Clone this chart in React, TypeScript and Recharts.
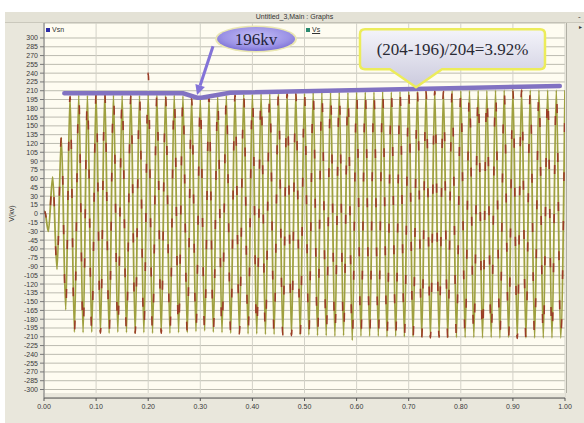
import React from 'react';
import {
  LineChart,
  Line,
  XAxis,
  YAxis,
  CartesianGrid,
  ReferenceArea,
  ReferenceLine,
  ReferenceDot,
} from 'recharts';

// ---- data ----
// sample times: start of the run, then one extremum every half cycle (60 Hz)
const START_TIMES = [0, 0.0015];
const HALF_CYCLE = 1 / 120;
const EXTREMA = 120;

// Vsn extrema (kV): start-up transient, then +/- peaks
const VSN = [
  0, 4,
  -30, 63, -95, 130, -164,
  201, -202, 203, -203, 202, -202, 204, -203, 207, -204,
  203, -202, 202, -203, 203, -204, 202, -203, 204, -204,
  203, -203, 202, -204, 203, -203, 201, -203, 198, -201,
  196, -200, 198, -202, 200, -203, 202, -204, 203, -204,
  204, -205, 204, -205, 205, -206, 205, -206, 205, -206,
  206, -207, 206, -207, 206, -207, 207, -208, 207, -208,
  207, -209, 208, -208, 207, -216, 208, -209, 208, -209,
  208, -209, 209, -210, 208, -209, 209, -210, 209, -210,
  209, -210, 209, -211, 210, -210, 209, -211, 210, -211,
  210, -211, 210, -211, 210, -212, 210, -211, 211, -212,
  211, -211, 211, -212, 211, -212, 211, -212, 211, -212,
  211, -212, 211, -212, 211,
];

// Vs extrema (kV)
const VS = [
  0, 4,
  -30, 63, -96, 131, -165,
  200, -203, 203, -204, 201, -203, 204, -204, 206, -205,
  203, -203, 202, -204, 202, -204, 201, -204, 240, -205,
  203, -204, 202, -205, 203, -204, 200, -204, 197, -202,
  196, -201, 198, -203, 200, -204, 202, -205, 203, -205,
  204, -206, 204, -206, 205, -207, 205, -207, 205, -207,
  206, -208, 206, -208, 206, -208, 207, -209, 207, -209,
  207, -210, 208, -209, 207, -217, 208, -210, 208, -210,
  208, -210, 209, -211, 208, -210, 209, -211, 209, -211,
  209, -211, 209, -212, 210, -211, 209, -212, 210, -212,
  210, -212, 210, -212, 210, -213, 210, -212, 211, -213,
  211, -212, 211, -213, 211, -213, 211, -213, 211, -213,
  211, -213, 211, -213, 211,
];

// hand-drawn envelope annotation
const ENV_T = [0.039, 0.267, 0.294, 0.302, 0.357, 0.99];
const ENV_V = [205.6, 205.6, 198, 198, 206.6, 218];

const X_TICKS = [0, 0.1, 0.2, 0.3, 0.4, 0.5, 0.6, 0.7, 0.8, 0.9, 1.0];
const Y_TICKS = [
  300, 285, 270, 255, 240, 225, 210, 195, 180, 165, 150, 135, 120, 105, 90, 75, 60, 45, 30, 15, 0,
  -15, -30, -45, -60, -75, -90, -105, -120, -135, -150, -165, -180, -195, -210, -225, -240, -255,
  -270, -285, -300,
];

const TITLE = 'Untitled_3,Main : Graphs';
const CALLOUT_1 = '196kv';
const CALLOUT_2 = '(204-196)/204=3.92%';

const TIMES = [
  ...START_TIMES,
  ...Array.from({ length: EXTREMA }, (_, i) => (i + 1) * HALF_CYCLE),
];
const rows = TIMES.map((t, i) => ({ t, vsn: VSN[i], vs: VS[i] }));
const envRows = ENV_T.map((t, i) => ({ t, env: ENV_V[i] }));

const FRAME = '#E9E7DC';
const CREAM = '#FEFCF1';
const tickFont = { fontSize: 7, fill: '#3a3a3a', fontFamily: 'Liberation Sans, Arial, sans-serif' };

const ArrowShape = (props: any) => {
  const { x1, y1, x2, y2 } = props;
  if ([x1, y1, x2, y2].some((v) => v == null || isNaN(v))) return null;
  const ang = Math.atan2(y2 - y1, x2 - x1);
  const L = 10;
  const W = 5;
  const bx = x2 - L * Math.cos(ang);
  const by = y2 - L * Math.sin(ang);
  const px = -Math.sin(ang) * W;
  const py = Math.cos(ang) * W;
  return (
    <g>
      <line x1={x1} y1={y1} x2={bx} y2={by} stroke="#8373d8" strokeWidth={3} />
      <polygon points={`${x2},${y2} ${bx + px},${by + py} ${bx - px},${by - py}`} fill="#8373d8" />
    </g>
  );
};

const EllipseCallout = (props: any) => {
  const { cx, cy } = props;
  if (cx == null || cy == null) return null;
  return (
    <g>
      <defs>
        <radialGradient id="ellG" cx="50%" cy="40%" r="60%">
          <stop offset="0%" stopColor="#c4bff6" />
          <stop offset="70%" stopColor="#9c93e6" />
          <stop offset="100%" stopColor="#7d72d6" />
        </radialGradient>
      </defs>
      <ellipse cx={cx} cy={cy} rx={41} ry={13.5} fill="#e9e6b0" />
      <ellipse cx={cx} cy={cy} rx={39} ry={12} fill="url(#ellG)" />
      <text
        x={cx}
        y={cy + 6}
        textAnchor="middle"
        fontFamily="Liberation Serif, Times New Roman, serif"
        fontSize={17}
        fill="#22223a"
      >
        {CALLOUT_1}
      </text>
    </g>
  );
};

const BoxCallout = (props: any) => {
  const { cx, cy } = props;
  if (cx == null || cy == null) return null;
  const l = cx - 56;
  const r = cx + 129;
  const t = cy - 58;
  const b = cy - 18;
  const rr = 5;
  const d = `M ${l + rr} ${t} L ${r - rr} ${t} Q ${r} ${t} ${r} ${t + rr} L ${r} ${b - rr} Q ${r} ${b} ${r - rr} ${b}
    L ${cx + 26} ${b} L ${cx} ${cy} L ${cx - 26} ${b} L ${l + rr} ${b} Q ${l} ${b} ${l} ${b - rr}
    L ${l} ${t + rr} Q ${l} ${t} ${l + rr} ${t} Z`;
  return (
    <g>
      <defs>
        <linearGradient id="boxG" x1="0" y1="0" x2="0" y2="1">
          <stop offset="0%" stopColor="#f4f4fa" />
          <stop offset="100%" stopColor="#cbcadd" />
        </linearGradient>
      </defs>
      <path d={d} fill="url(#boxG)" stroke="#ecec5a" strokeWidth={2.5} strokeLinejoin="round" />
      <text
        x={(l + r) / 2}
        y={(t + b) / 2 + 6}
        textAnchor="middle"
        fontFamily="Liberation Serif, Times New Roman, serif"
        fontSize={17}
        fill="#2a2a34"
      >
        {CALLOUT_2}
      </text>
    </g>
  );
};

export default function App() {
  return (
    <div
      style={{
        position: 'absolute',
        left: 0,
        top: 0,
        width: 584,
        height: 423,
        background: '#ffffff',
        overflow: 'hidden',
        fontFamily: 'Liberation Sans, Arial, sans-serif',
      }}
    >
      <div style={{ position: 'absolute', left: 5, top: 12, width: 579, height: 411, background: FRAME }} />
      <div
        style={{
          position: 'absolute',
          left: 5,
          top: 12,
          width: 579,
          height: 10,
          background: '#E4E2D6',
          borderBottom: '1px solid #cac8bc',
          fontSize: 7,
          lineHeight: '10px',
          textAlign: 'center',
          color: '#333',
        }}
      >
        {TITLE}
      </div>
      <div
        style={{
          position: 'absolute',
          left: 43,
          top: 23,
          width: 523,
          height: 370,
          background: CREAM,
          borderRight: '1px solid #b0afa4',
        }}
      />
      <div style={{ position: 'absolute', left: 0, top: 0 }}>
        <LineChart width={584} height={423} data={rows} margin={{ top: 23, right: 19, bottom: 0, left: 0 }}>
          <CartesianGrid vertical={false} stroke="#bcbbb0" />
          <CartesianGrid horizontal={false} stroke="#d3d2c8" />
          <XAxis
            type="number"
            dataKey="t"
            domain={[0, 1]}
            ticks={X_TICKS}
            interval={0}
            tickFormatter={(v: number) => v.toFixed(2)}
            tick={tickFont}
            tickSize={3}
            tickMargin={3}
            height={25}
            stroke="#555"
            allowDataOverflow
          />
          <YAxis
            type="number"
            domain={[-314.5, 325.6]}
            ticks={Y_TICKS}
            interval={0}
            tick={tickFont}
            tickSize={4}
            tickMargin={2}
            width={44}
            stroke="#777"
            allowDataOverflow
          />
          <ReferenceArea y1={-314.5} y2={-306} fill={FRAME} fillOpacity={1} stroke="none" ifOverflow="visible" />
          <Line
            dataKey="vsn"
            type="monotone"
            stroke="#9fa03f"
            strokeWidth={1.8}
            dot={false}
            isAnimationActive={false}
          />
          <Line
            dataKey="vs"
            type="monotone"
            stroke="#9b3b26"
            strokeWidth={1.6}
            strokeDasharray="9 40"
            dot={false}
            isAnimationActive={false}
          />
          <Line
            data={envRows}
            dataKey="env"
            type="linear"
            stroke="#8172c2"
            strokeWidth={4.5}
            strokeLinecap="round"
            dot={false}
            isAnimationActive={false}
          />
          <ReferenceLine
            segment={[
              { x: 0.3244, y: 286 },
              { x: 0.2937, y: 202.7 },
            ]}
            ifOverflow="visible"
            shape={ArrowShape}
          />
          <ReferenceDot x={0.407} y={298.3} r={1} ifOverflow="visible" shape={EllipseCallout} />
          <ReferenceDot x={0.714} y={216} r={1} ifOverflow="visible" shape={BoxCallout} />
        </LineChart>
      </div>
      {/* legend */}
      <div style={{ position: 'absolute', left: 46, top: 25, fontSize: 7, color: '#333', lineHeight: '10px' }}>
        <span style={{ display: 'inline-block', width: 4, height: 4, background: '#2c2ca8', marginRight: 2, verticalAlign: 'middle' }} />
        Vsn
      </div>
      <div style={{ position: 'absolute', left: 306, top: 25, fontSize: 7, color: '#333', lineHeight: '10px' }}>
        <span style={{ display: 'inline-block', width: 4, height: 4, background: '#2a8a70', marginRight: 2, verticalAlign: 'middle' }} />
        <span style={{ textDecoration: 'underline' }}>Vs</span>
      </div>
      {/* y-axis title */}
      <div
        style={{
          position: 'absolute',
          left: -4,
          top: 210,
          width: 30,
          textAlign: 'center',
          fontSize: 7,
          color: '#333',
          transform: 'rotate(-90deg)',
        }}
      >
        V(kv)
      </div>
      <div style={{ position: 'absolute', left: 578, top: 12, fontSize: 8, color: '#333' }}>-</div>
      <div style={{ position: 'absolute', left: 579, top: 23, fontSize: 6, color: '#333' }}>▸</div>
    </div>
  );
}
